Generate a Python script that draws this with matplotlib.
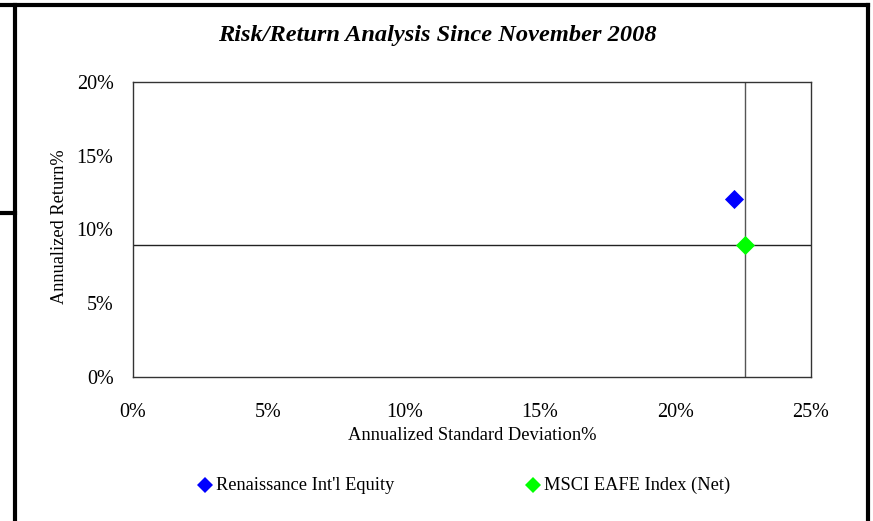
import matplotlib
matplotlib.use("Agg")
import matplotlib.pyplot as plt
from matplotlib.lines import Line2D

plt.rcParams['font.family'] = ['Liberation Serif', 'DejaVu Serif']

names = ["Renaissance Int'l Equity", "MSCI EAFE Index (Net)"]
std_dev = [22.15, 22.57]
returns = [12.05, 8.97]
colors = ["#0000FF", "#00FF00"]
x_ticks = [0, 5, 10, 15, 20, 25]
y_ticks = [0, 5, 10, 15, 20]

W, H = 873, 521
fig = plt.figure(figsize=(W/100, H/100), dpi=100)

# outer frame lines
fl = dict(color='black', lw=3, transform=fig.transFigure, clip_on=False)
fig.add_artist(Line2D([0, 868/W], [1-4.5/H, 1-4.5/H], **fl))
fig.add_artist(Line2D([15/W, 15/W], [0, 1-4.5/H], **fl))
fig.add_artist(Line2D([867.5/W, 867.5/W], [0, 1-4.5/H], **fl))
fig.add_artist(Line2D([0, 15/W], [1-213/H, 1-213/H], **fl))

ax = fig.add_axes([133/W, 1-377/H, (811-133)/W, (377-82)/H])
ax.set_xlim(0, 25)
ax.set_ylim(0, 20)
ax.set_xticks(x_ticks)
ax.set_yticks(y_ticks)
ax.set_xticklabels([f"{v}%" for v in x_ticks], fontsize=14.5)
ax.set_yticklabels([f"{v}%" for v in y_ticks], fontsize=14.5)
ax.tick_params(axis='y', length=0, pad=14)
ax.tick_params(axis='x', length=0, pad=18.5)
for s in ax.spines.values():
    s.set_color('#333333')
    s.set_linewidth(1)

# crosshair at benchmark
ax.axhline(returns[1], color='#222222', lw=1, zorder=1)
ax.axvline(std_dev[1], color='#555555', lw=1, zorder=1)

for x, y, c, n in zip(std_dev, returns, colors, names):
    ax.scatter([x], [y], marker='D', s=95, color=c, zorder=3, label=n, linewidths=0)

ax.set_xlabel("Annualized Standard Deviation%", fontsize=13.3)
ax.xaxis.set_label_coords(0.5, -(427 - 377) / 295)
ax.set_ylabel("Annualized Return%", fontsize=13.2)
ax.yaxis.set_label_coords(-(133 - 68) / 678, (377 - 227) / 295)

fig.text(437/W, 1-35/H, "Risk/Return Analysis Since November 2008", fontsize=17.6,
         fontweight='bold', fontstyle='italic', ha='center', va='center')

# legend entries
for i, (n, c) in enumerate(zip(names, colors)):
    mx = [205, 533][i]
    fig.add_artist(Line2D([mx/W], [1-485/H], marker='D', markersize=8.5, color=c,
                          markeredgewidth=0, linestyle='none', transform=fig.transFigure))
    fig.text((mx+11)/W, 1-485/H, n, fontsize=13.2, ha='left', va='center')

fig.savefig("out.png", dpi=100)
